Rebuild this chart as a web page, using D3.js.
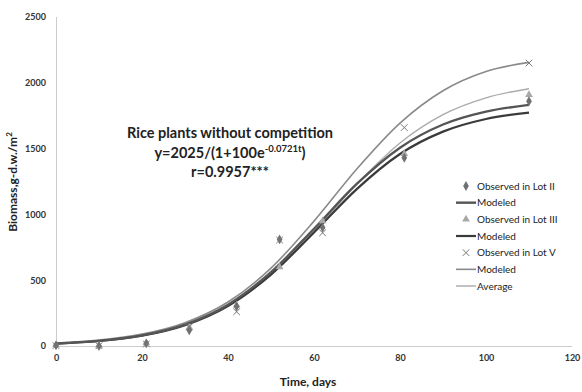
<!DOCTYPE html>
<html>
<head>
<meta charset="utf-8">
<script src="https://cdn.jsdelivr.net/npm/d3@7"></script>
<style>
  body { margin: 0; background: #fff; }
  svg { font-family: Lato, "Open Sans", sans-serif; }
</style>
</head>
<body>
<div id="chart"></div>
<script>
// observation days and observed biomass per lot
const obsDays = [0, 10, 21, 31, 42, 52, 62, 81, 110];
const lot2 = [5, 0, 20, 120, 300, 810, 900, 1430, 1860];
const lot3 = [8, 4, 22, 140, 310, 600, 950, 1460, 1910];
const lot5 = [3, 2, 15, 145, 260, 805, 860, 1660, 2150];

const modelDays = [0, 10, 20, 30, 40, 50, 60, 70, 80, 90, 100, 110];
const model2 = [19, 39, 81, 163, 314, 561, 891, 1233, 1507, 1683, 1781, 1832];
const model3 = [18, 38, 78, 158, 304, 543, 863, 1194, 1459, 1629, 1725, 1774];
const model5 = [22, 45, 90, 177, 334, 592, 949, 1347, 1694, 1940, 2086, 2155];
const average = [20, 41, 82, 162, 307, 544, 872, 1232, 1543, 1758, 1886, 1955];

const xTicks = [0, 20, 40, 60, 80, 100, 120];
const yTicks = [0, 500, 1000, 1500, 2000, 2500];

const legendLabels = ["Observed in Lot II", "Modeled", "Observed in Lot III", "Modeled",
                      "Observed in Lot V", "Modeled", "Average"];

const width = 582, height = 392;
const svg = d3.select("#chart").append("svg")
  .attr("width", width)
  .attr("height", height);

const x = d3.scaleLinear().domain([0, 120]).range([56, 572]);
const y = d3.scaleLinear().domain([0, 2500]).range([346, 17]);

// axes (dotted grey lines, no tick marks)
const xAxis = svg.append("g")
  .attr("transform", "translate(0," + y(0) + ")")
  .call(d3.axisBottom(x).tickValues(xTicks).tickFormat(d3.format("d")).tickSize(0).tickPadding(9));
const yAxis = svg.append("g")
  .attr("transform", "translate(" + x(0) + ",0)")
  .call(d3.axisLeft(y).tickValues(yTicks).tickFormat(d3.format("d")).tickSize(0).tickPadding(10));
[xAxis, yAxis].forEach(a => {
  a.select(".domain").attr("stroke", "#999").attr("stroke-dasharray", "1,1");
  a.selectAll("text")
    .attr("fill", "#333")
    .style("font-size", "9px")
    .style("font-weight", "bold")
    .style("font-family", "Lato, sans-serif");
});

// modeled lines
const line = d3.line()
  .x((d, i) => x(modelDays[i]))
  .y(d => y(d))
  .curve(d3.curveMonotoneX);

const series = [
  {vals: average, color: "#aaaaaa", w: 1.4},
  {vals: model5, color: "#8a8a8a", w: 1.6},
  {vals: model3, color: "#3a3a3a", w: 2.2},
  {vals: model2, color: "#555555", w: 2.4}
];
svg.append("g").selectAll("path")
  .data(series)
  .enter()
  .append("path")
    .attr("d", d => line(d.vals))
    .attr("fill", "none")
    .attr("stroke", d => d.color)
    .attr("stroke-width", d => d.w);

// observed markers
const diamond = d3.symbol().type(d3.symbolDiamond).size(28);
const triangle = d3.symbol().type(d3.symbolTriangle).size(26);
const cross = d3.symbol().type(d3.symbolX).size(30);

function drawMarks(vals, sym, fill, stroke) {
  svg.append("g").selectAll("path")
    .data(vals)
    .enter()
    .append("path")
      .attr("d", sym)
      .attr("transform", (d, i) => "translate(" + x(obsDays[i]) + "," + y(d) + ")")
      .attr("fill", fill)
      .attr("stroke", stroke)
      .attr("stroke-width", 1);
}
drawMarks(lot3, triangle, "#a8a8a8", "none");
drawMarks(lot2, diamond, "#707070", "none");
drawMarks(lot5, cross, "none", "#7a7a7a");

// legend
const legend = svg.append("g");
const rowY = d3.scaleLinear().domain([0, 6]).range([186, 286]);
const legendItems = [
  {kind: "mark", sym: diamond, fill: "#707070", stroke: "none"},
  {kind: "line", color: "#555555", w: 2.4},
  {kind: "mark", sym: triangle, fill: "#a8a8a8", stroke: "none"},
  {kind: "line", color: "#3a3a3a", w: 2.2},
  {kind: "mark", sym: cross, fill: "none", stroke: "#7a7a7a"},
  {kind: "line", color: "#8a8a8a", w: 1.6},
  {kind: "line", color: "#aaaaaa", w: 1.4}
];
legendItems.forEach((it, i) => {
  const yy = rowY(i);
  if (it.kind === "mark") {
    legend.append("path")
      .attr("d", it.sym)
      .attr("transform", "translate(466," + yy + ")")
      .attr("fill", it.fill)
      .attr("stroke", it.stroke);
  } else {
    legend.append("line")
      .attr("x1", 456).attr("x2", 476)
      .attr("y1", yy).attr("y2", yy)
      .attr("stroke", it.color)
      .attr("stroke-width", it.w);
  }
  legend.append("text")
    .attr("x", 477)
    .attr("y", yy)
    .attr("dy", "0.35em")
    .attr("fill", "#222")
    .style("font-size", "10px")
    .text(legendLabels[i]);
});

// annotation
const ann = svg.append("g")
  .attr("text-anchor", "middle")
  .attr("fill", "#222")
  .style("font-weight", "bold")
  .style("font-size", "14.5px");
ann.append("text").attr("x", 230).attr("y", 138).text("Rice plants without competition");
const eq = ann.append("text").attr("x", 230).attr("y", 158);
eq.append("tspan").text("y=2025/(1+100e");
eq.append("tspan").attr("dy", -6).style("font-size", "9.5px").text("-0.0721t");
eq.append("tspan").attr("dy", 6).text(")");
ann.append("text").attr("x", 230).attr("y", 177).text("r=0.9957***");

// axis titles
svg.append("text")
  .attr("x", 308).attr("y", 386)
  .attr("text-anchor", "middle")
  .attr("fill", "#222")
  .style("font-weight", "bold")
  .style("font-size", "12px")
  .text("Time, days");

const yt = svg.append("text")
  .attr("transform", "translate(17,182) rotate(-90)")
  .attr("text-anchor", "middle")
  .attr("fill", "#222")
  .style("font-weight", "bold")
  .style("font-size", "12px");
yt.append("tspan").text("Biomass,g-d.w./m");
yt.append("tspan").attr("dy", -5).style("font-size", "8px").text("2");
</script>
</body>
</html>
